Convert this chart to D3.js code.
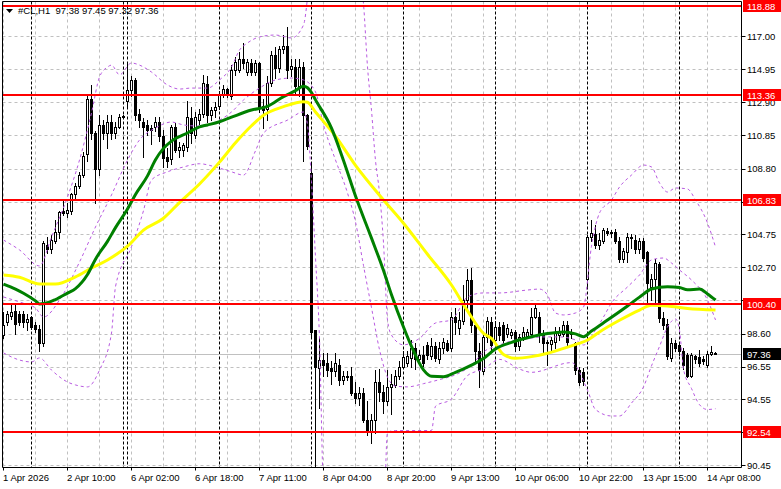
<!DOCTYPE html>
<html><head><meta charset="utf-8">
<script src="https://cdn.jsdelivr.net/npm/d3@7"></script>
<style>
html,body{margin:0;padding:0;background:#fff;}
svg{display:block;}
text{font-family:"Liberation Sans",Arial,sans-serif;font-size:9.5px;}
</style></head><body>
<svg id="c" width="781" height="489"></svg>
<script>
// ---------- DATA ----------
const symbol = "#CL,H1";
const lastQuote = ["97.38", "97.45", "97.32", "97.36"];

// trading sessions: [date, first hour, last hour]
const sessions = [["1 Apr",17,23],["2 Apr",1,23],["3 Apr",0,0],["6 Apr",1,23],["7 Apr",1,23],
  ["8 Apr",1,23],["9 Apr",1,23],["10 Apr",1,23],["13 Apr",1,23],["14 Apr",1,10]];

// hourly candles [open, high, low, close]
const candles = [
[98.5,99.9,98.3,99.13],[99.3,100.0,99.1,99.8],[99.7,100.35,99.5,99.95],[100.0,100.4,98.6,99.2],[99.8,100.0,99.1,99.3],
[99.8,100.0,99.0,99.3],[99.3,99.8,98.8,99.5],[99.6,99.7,98.9,99.0],[99.1,99.3,98.7,98.9],[98.9,99.1,97.5,98.0],
[98.0,104.3,97.8,104.2],[104.1,104.6,103.6,103.8],[103.8,104.7,103.6,104.4],[104.3,105.6,104.2,104.9],[104.9,106.2,104.5,106.1],
[106.2,106.8,105.9,106.05],[106.05,106.7,105.8,106.25],[106.2,107.3,106.0,107.2],[107.2,107.9,106.9,107.7],[107.7,108.6,107.6,108.4],
[108.4,109.8,108.3,109.6],[109.7,113.4,109.3,113.1],[113.1,114.0,110.6,111.0],[111.0,111.1,106.7,108.8],[108.8,112.1,108.4,111.5],
[111.5,111.8,110.6,111.0],[111.0,112.1,110.1,111.7],[111.7,112.1,110.6,111.0],[111.0,111.7,110.7,111.4],[111.4,112.2,111.3,112.0],
[112.0,112.1,111.95,112.05],[112.95,115.4,112.6,113.65],[113.65,114.5,113.3,114.3],[114.3,114.4,111.8,112.1],[112.2,112.5,111.4,111.8],
[111.7,111.9,109.5,111.4],[111.5,111.8,110.9,111.2],[111.3,111.5,110.3,111.2],[111.35,112.0,111.1,111.7],[111.7,112.0,110.5,110.8],
[110.8,111.2,108.9,109.45],[109.5,110.1,108.9,109.3],[109.4,111.5,109.1,111.4],[111.4,111.6,109.8,109.95],[109.95,110.45,109.5,110.15],
[109.95,110.4,109.6,110.25],[110.15,113.0,109.9,112.0],[111.9,112.6,110.4,111.0],[110.9,112.3,110.7,112.0],[111.8,112.5,111.55,112.2],
[112.2,114.6,112.0,114.1],[114.05,114.5,111.7,112.1],[112.1,112.6,111.8,112.4],[112.4,112.9,112.0,112.6],[112.7,113.6,112.5,113.35],
[113.35,114.0,113.2,113.75],[113.75,113.8,113.2,113.35],[113.3,115.2,113.1,114.9],[114.9,115.7,114.6,115.4],[114.9,116.0,114.8,115.6],
[115.55,116.55,115.0,115.35],[114.8,115.6,114.6,115.4],[115.3,115.6,114.6,114.8],[114.8,115.5,114.6,115.35],[115.35,115.4,112.3,112.6],
[112.7,113.1,111.3,112.4],[112.5,114.5,111.8,114.1],[114.1,116.1,113.9,115.8],[115.8,116.35,114.4,115.0],[115.0,116.4,114.8,116.2],
[116.2,117.05,115.95,116.4],[116.4,117.55,114.4,114.9],[114.95,115.6,114.5,115.15],[115.1,115.6,113.5,113.9],[113.9,115.6,113.3,115.1],
[115.1,115.4,109.3,112.1],[112.1,112.2,110.0,110.2],[108.5,109.1,98.3,98.7],[98.8,98.8,89.4,96.5],[96.45,98.3,94.0,96.95],
[96.95,97.4,96.0,96.65],[96.75,97.4,96.0,96.35],[96.45,96.9,95.5,96.3],[96.3,97.4,96.0,96.8],[96.65,97.0,95.4,95.75],
[95.75,96.3,95.5,95.95],[95.9,96.3,95.7,96.0],[96.0,96.5,94.8,94.9],[94.95,95.6,94.3,94.6],[94.6,95.3,94.2,94.95],
[94.9,95.2,93.1,93.25],[93.25,94.4,92.3,92.55],[92.6,93.6,91.85,93.25],[93.25,96.35,92.45,95.6],[95.6,96.4,94.4,95.0],
[95.0,95.4,93.7,94.4],[94.4,96.35,94.2,95.3],[95.3,96.1,93.6,95.45],[95.4,96.35,95.3,96.0],[96.0,96.9,95.8,96.55],
[96.55,97.5,96.5,97.15],[96.8,97.5,96.6,97.2],[97.1,98.2,96.55,97.7],[97.7,98.0,96.4,97.0],[97.0,97.6,96.7,97.3],
[97.3,97.8,96.6,96.8],[97.9,98.1,97.0,97.3],[97.2,98.3,97.0,97.8],[97.8,98.1,96.9,97.1],[97.0,98.1,96.8,97.7],
[97.7,98.3,97.4,98.1],[98.0,98.2,97.5,97.6],[97.7,99.9,97.5,99.6],[99.6,100.2,98.6,99.3],[98.95,99.9,98.6,99.45],
[99.35,101.6,99.2,100.65],[100.65,102.6,100.1,101.9],[101.9,102.65,98.7,99.15],[99.1,99.3,96.9,97.5],[97.5,98.0,95.3,96.35],
[96.3,98.6,96.1,98.4],[98.4,99.6,98.1,99.35],[99.3,99.6,97.6,97.9],[98.2,99.4,97.7,99.0],[99.0,99.3,98.2,98.5],
[99.1,99.3,98.0,98.2],[98.6,99.2,98.4,98.95],[98.5,98.9,98.3,98.7],[98.7,98.8,97.5,97.8],[97.8,98.6,97.6,98.4],
[98.4,99.0,98.2,98.7],[98.45,98.9,98.3,98.7],[98.6,100.15,98.4,99.65],[99.65,100.45,99.55,100.15],[99.65,99.9,98.1,98.6],
[98.5,98.8,97.4,98.0],[98.1,98.2,96.65,98.0],[97.95,98.4,97.5,98.2],[98.1,99.0,97.7,98.7],[98.5,99.0,98.2,98.75],
[98.6,99.4,98.45,99.1],[99.1,99.4,97.9,98.1],[98.7,98.9,98.3,98.55],[98.0,98.1,96.1,96.35],[96.35,96.5,95.4,95.6],
[96.25,96.45,95.4,95.65],[102.0,104.7,101.5,104.55],[104.6,105.6,104.3,104.8],[104.75,105.3,103.9,104.1],[104.1,104.8,103.8,104.4],
[104.3,105.1,104.2,105.0],[104.95,105.1,104.7,104.8],[104.9,105.0,104.6,104.8],[104.9,105.05,104.2,104.3],[104.3,104.6,103.0,103.2],
[103.2,103.9,103.0,103.7],[103.65,104.8,103.0,104.6],[104.6,104.75,103.9,104.5],[104.4,104.7,103.6,103.8],[103.8,104.5,103.6,104.3],
[104.3,104.5,103.1,103.3],[103.65,103.7,100.4,101.7],[101.5,102.3,100.7,102.0],[102.0,103.2,100.5,102.95],[102.9,103.0,99.3,99.55],
[99.55,99.9,98.9,99.1],[99.2,99.5,97.0,97.2],[97.1,98.3,96.9,98.0],[98.0,98.2,97.5,97.7],[97.9,98.1,97.3,97.5],
[97.5,97.7,96.4,96.65],[97.3,97.4,95.9,96.0],[96.0,97.4,95.9,97.3],[97.2,97.3,96.8,97.0],[97.15,97.6,96.6,96.8],
[97.0,97.2,96.7,96.9],[96.65,97.5,96.5,97.35],[97.35,97.8,97.3,97.45],[97.38,97.45,97.32,97.36]];

// indicator lines: [bar number, price]
const greenMA = [[0,101.66],[3,101.35],[5,101.09],[8,100.62],[9,100.43],[11,100.5],[13,100.7],[16,101.1],[18,101.38],[21,102.25],
 [23,103.2],[26,104.3],[28,105.15],[31,106.3],[33,107.2],[36,108.35],[38,109.35],[40,110.05],[42,110.5],[46,111.0],[49,111.38],
 [51,111.5],[54,111.7],[57,111.98],[62,112.42],[66,112.65],[70,113.25],[73,113.62],[75,113.9],[76,113.8],[77,113.5],[78,113.05],
 [82,111.3],[85,109.3],[88,107.1],[92,104.5],[95,102.5],[97,101.0],[100,99.0],[102,97.8],[105,96.35],[107,95.95],[110,95.93],
 [113,96.2],[117,96.65],[120,97.05],[123,97.65],[127,98.05],[132,98.4],[136,98.6],[140,98.7],[143,98.58],[145,98.4],[147,98.75],
 [152,99.6],[156,100.3],[159,100.85],[162,101.35],[166,101.5],[169,101.45],[171,101.3],[174,101.35],[176,101.05],[178,100.67]];
const yellowMA = [[0,102.22],[4,102.08],[9,101.66],[13,101.66],[18,102.1],[22,102.65],[26,103.15],[31,104.0],[35,105.0],[40,105.73],
 [44,106.7],[49,107.85],[54,109.2],[58,110.4],[62,111.45],[65,112.1],[70,112.63],[75,112.94],[76,112.9],[78,112.3],[83,110.8],
 [88,109.0],[95,106.86],[100,105.42],[106,103.5],[112,101.6],[116,100.0],[120,98.61],[122,98.3],[125,97.3],[128,97.07],[132,97.17],
 [136,97.38],[140,97.68],[144,98.0],[146,98.2],[149,98.7],[154,99.42],[159,100.05],[162,100.35],[166,100.3],[171,100.15],[178,100.05]];
const bandUpper = [[0,104.38],[4,103.77],[9,102.78],[12,104.57],[16,107.04],[19,109.33],[22,112.24],[24,114.46],[26,115.08],[27,115.2],
 [29,114.6],[32,115.33],[34,115.2],[37,114.77],[41,113.97],[44,113.72],[47,113.78],[51,113.78],[54,114.28],[57,115.08],[59,116.13],
 [61,116.57],[64,116.94],[68,117.06],[72,116.88],[75,117.68],[77,121.5],[80,123.5],[86,123.5],[89,121.0],[90,119.0],[91,115.1],
 [92,112.4],[93,109.3],[94,107.3],[95,104.2],[96,99.44],[97,98.5],[100,97.9],[104,98.3],[108,99.25],[112,99.44],[116,100.86],
 [120,101.11],[124,101.11],[131,101.29],[134,101.35],[136,100.98],[138,99.87],[140,99.75],[143,99.87],[145,100.24],[147,104.0],
 [149,106.05],[152,106.86],[154,107.66],[157,108.4],[160,109.02],[162,108.9],[164,107.91],[166,107.35],[168,107.6],[171,107.54],
 [173,106.86],[176,105.44],[178,103.95]];
const bandMiddle = [[0,100.86],[4,100.55],[8,100.18],[10,99.62],[14,100.67],[19,103.02],[23,105.19],[27,107.17],[31,109.33],[34,110.57],
 [38,111.31],[42,111.68],[45,111.5],[49,111.43],[53,111.68],[57,112.3],[60,113.04],[64,113.78],[68,114.28],[72,114.4],[75,114.28],
 [78,113.54],[80,111.5],[83,109.33],[86,107.29],[88,105.5],[90,102.8],[92,100.2],[94,97.6],[96,95.9],[98,95.35],[101,95.3],
 [105,95.5],[109,95.75],[113,96.05],[117,96.65],[120,97.46],[124,97.89],[128,98.2],[132,98.32],[135,98.39],[139,98.39],[143,98.2],
 [145,97.89],[148,98.82],[150,99.62],[152,100.49],[156,101.48],[159,102.22],[162,103.15],[165,103.27],[167,102.96],[169,102.53],
 [172,101.91],[176,100.67],[178,99.44]];
const bandLower = [[0,97.4],[4,96.96],[7,96.84],[9,97.09],[12,96.34],[16,95.6],[18,95.42],[21,95.3],[24,96.34],[27,98.63],[28,101.5],
 [32,103.97],[35,106.2],[37,108.1],[41,108.6],[45,108.9],[49,109.1],[53,108.9],[57,108.6],[60,108.4],[63,109.9],[65,111.0],[71,111.8],
 [75,112.3],[76,111.5],[77,108.0],[78,103.3],[79,98.3],[80,89.0],[83,85.0],[90,84.0],[95,87.0],[96,92.5],[98,92.6],[102,92.6],
 [107,92.6],[108,94.1],[112,94.55],[116,96.0],[120,96.4],[124,97.0],[129,96.4],[132,96.2],[142,96.8],[146,95.1],[148,93.9],
 [152,93.5],[154,93.5],[157,94.3],[160,95.3],[162,96.6],[164,97.8],[166,99.0],[168,99.5],[169,98.8],[170,96.4],[172,95.2],
 [174,94.2],[176,93.9],[178,93.95]];

const priceTicks = [117.00,114.95,112.90,110.85,108.80,106.75,104.75,102.70,100.65,98.60,96.55,94.55,92.50,90.45];
const levels = [118.88,113.36,106.83,100.40,92.54];
const currentPrice = 97.36;
const xTickTimes  = ["1 Apr 17:00","2 Apr 10:00","6 Apr 02:00","6 Apr 18:00","7 Apr 11:00","8 Apr 04:00",
  "8 Apr 20:00","9 Apr 13:00","10 Apr 06:00","10 Apr 22:00","13 Apr 15:00","14 Apr 08:00"];
const xTickLabels = ["1 Apr 2026","2 Apr 10:00","6 Apr 02:00","6 Apr 18:00","7 Apr 11:00","8 Apr 04:00",
  "8 Apr 20:00","9 Apr 13:00","10 Apr 06:00","10 Apr 22:00","13 Apr 15:00","14 Apr 08:00"];

// ---------- BUILD ----------
const pad = h => (h < 10 ? "0" : "") + h + ":00";
const times = [], dayOf = [];
sessions.forEach(([d, a, b]) => { for (let h = a; h <= b; h++) { times.push(d + " " + pad(h)); dayOf.push(d); } });

const L = 2.5, R = 741.5, T = 1.5, B = 467.5;
const svg = d3.select("#c");
const x = d3.scalePoint().domain(times).range([3.5, 3.5 + 4 * (times.length - 1)]);
const xi = i => x(times[i]);
const y = d3.scaleLinear().domain([90.45, 117.00]).range([465.3, 36]);
const yc = v => Math.round(y(v)) + 0.5;

svg.append("rect").attr("width", 781).attr("height", 489).attr("fill", "#fff");
svg.append("clipPath").attr("id", "plot").append("rect").attr("x", L).attr("y", T).attr("width", R - L).attr("height", B - T);
const g = svg.append("g").attr("clip-path", "url(#plot)");

// grid
g.selectAll(".hg").data(priceTicks).enter().append("line")
  .attr("x1", L).attr("x2", R).attr("y1", yc).attr("y2", yc)
  .attr("stroke", "#c0c0c0").attr("stroke-dasharray", "3,3");
const gridTimes = times.filter((t, i) => i % 8 === 0);
g.selectAll(".vg").data(gridTimes).enter().append("line")
  .attr("x1", d => x(d)).attr("x2", d => x(d)).attr("y1", T).attr("y2", B)
  .attr("stroke", "#c0c0c0").attr("stroke-dasharray", "3,3");
// day separators
const sepTimes = times.filter((t, i) => i > 0 && dayOf[i] !== dayOf[i - 1]);
g.selectAll(".sep").data(sepTimes).enter().append("line")
  .attr("x1", d => x(d)).attr("x2", d => x(d)).attr("y1", T).attr("y2", B)
  .attr("stroke", "#000").attr("stroke-dasharray", "3,2");
// bid line
g.append("line").attr("x1", L).attr("x2", R).attr("y1", yc(currentPrice)).attr("y2", yc(currentPrice)).attr("stroke", "#c0c0c0");

// candles
const cg = g.append("g");
cg.selectAll(".wick").data(candles).enter().append("line")
  .attr("x1", (d, i) => xi(i)).attr("x2", (d, i) => xi(i))
  .attr("y1", d => Math.round(y(d[1]))).attr("y2", d => Math.round(y(d[2])) + 1)
  .attr("stroke", "#000");
cg.selectAll(".body").data(candles).enter().append("rect")
  .attr("x", (d, i) => d[3] >= d[0] ? xi(i) - 1 : xi(i) - 1.5)
  .attr("width", d => d[3] >= d[0] ? 2 : 3)
  .attr("y", d => {
    const top = Math.round(y(Math.max(d[0], d[3])));
    return d[3] >= d[0] ? top + 0.5 : top;
  })
  .attr("height", d => {
    const top = Math.round(y(Math.max(d[0], d[3]))), bot = Math.round(y(Math.min(d[0], d[3])));
    return d[3] >= d[0] ? Math.max(bot - top, 0) : Math.max(bot - top + 1, 1);
  })
  .attr("fill", d => d[3] >= d[0] ? "#fff" : "#000")
  .attr("stroke", d => d[3] >= d[0] ? "#000" : "none");

// indicators
const line = d3.line().x(d => xi(d[0])).y(d => y(d[1])).curve(d3.curveMonotoneX);
[bandUpper, bandMiddle, bandLower].forEach(b => {
  g.append("path").attr("d", line(b)).attr("fill", "none").attr("stroke", "#b85ae0").attr("stroke-dasharray", "3,3");
});
g.append("path").attr("d", line(yellowMA)).attr("fill", "none").attr("stroke", "#ffff00").attr("stroke-width", 3);
g.append("path").attr("d", line(greenMA)).attr("fill", "none").attr("stroke", "#008000").attr("stroke-width", 3);

// level lines
g.selectAll(".lvl").data(levels).enter().append("line")
  .attr("x1", L).attr("x2", R).attr("y1", d => Math.round(y(d))).attr("y2", d => Math.round(y(d)))
  .attr("stroke", "#ff0000").attr("stroke-width", 2);

// frame
svg.append("path").attr("d", `M${L},${T}H${R}V${B}H${L}Z`).attr("fill", "none").attr("stroke", "#000");

// right axis (labels fully covered by a level tag are not drawn, as in the terminal)
const tagY = levels.map(v => y(v));
const shownTicks = priceTicks.filter(v => tagY.every(t => Math.abs(y(v) - t) >= 6));
svg.selectAll(".rt").data(priceTicks).enter().append("line")
  .attr("x1", R).attr("x2", R + 4).attr("y1", yc).attr("y2", yc).attr("stroke", "#000");
svg.selectAll(".rl").data(shownTicks).enter().append("text")
  .attr("x", 747).attr("y", d => y(d) + 3.5).attr("fill", "#000").text(d => d.toFixed(2));
// level tags
const tags = svg.selectAll(".tag").data(levels).enter().append("g");
tags.append("rect").attr("x", 743).attr("y", d => Math.round(y(d)) - 6).attr("width", 38).attr("height", 12).attr("fill", "#ff0000");
tags.append("text").attr("x", 747).attr("y", d => Math.round(y(d)) + 3.5).attr("fill", "#fff").text(d => d.toFixed(2));
// current price tag
svg.append("rect").attr("x", 743).attr("y", Math.round(y(currentPrice)) - 6).attr("width", 38).attr("height", 12).attr("fill", "#000");
svg.append("text").attr("x", 747).attr("y", Math.round(y(currentPrice)) + 3.5).attr("fill", "#fff").text(currentPrice.toFixed(2));

// bottom axis
svg.selectAll(".bt").data(xTickTimes).enter().append("line")
  .attr("x1", d => x(d)).attr("x2", d => x(d)).attr("y1", B).attr("y2", B + 3).attr("stroke", "#000");
svg.selectAll(".bl").data(xTickTimes).enter().append("text")
  .attr("x", d => x(d) - 0.5).attr("y", 481).attr("fill", "#000").text((d, i) => xTickLabels[i]);

// title
svg.append("path").attr("d", "M6,9H13L9.5,13Z").attr("fill", "#000");
svg.append("text").attr("x", 18).attr("y", 14).attr("fill", "#000").attr("xml:space", "preserve")
  .text(symbol + "  " + lastQuote.join(" "));
</script></body></html>
